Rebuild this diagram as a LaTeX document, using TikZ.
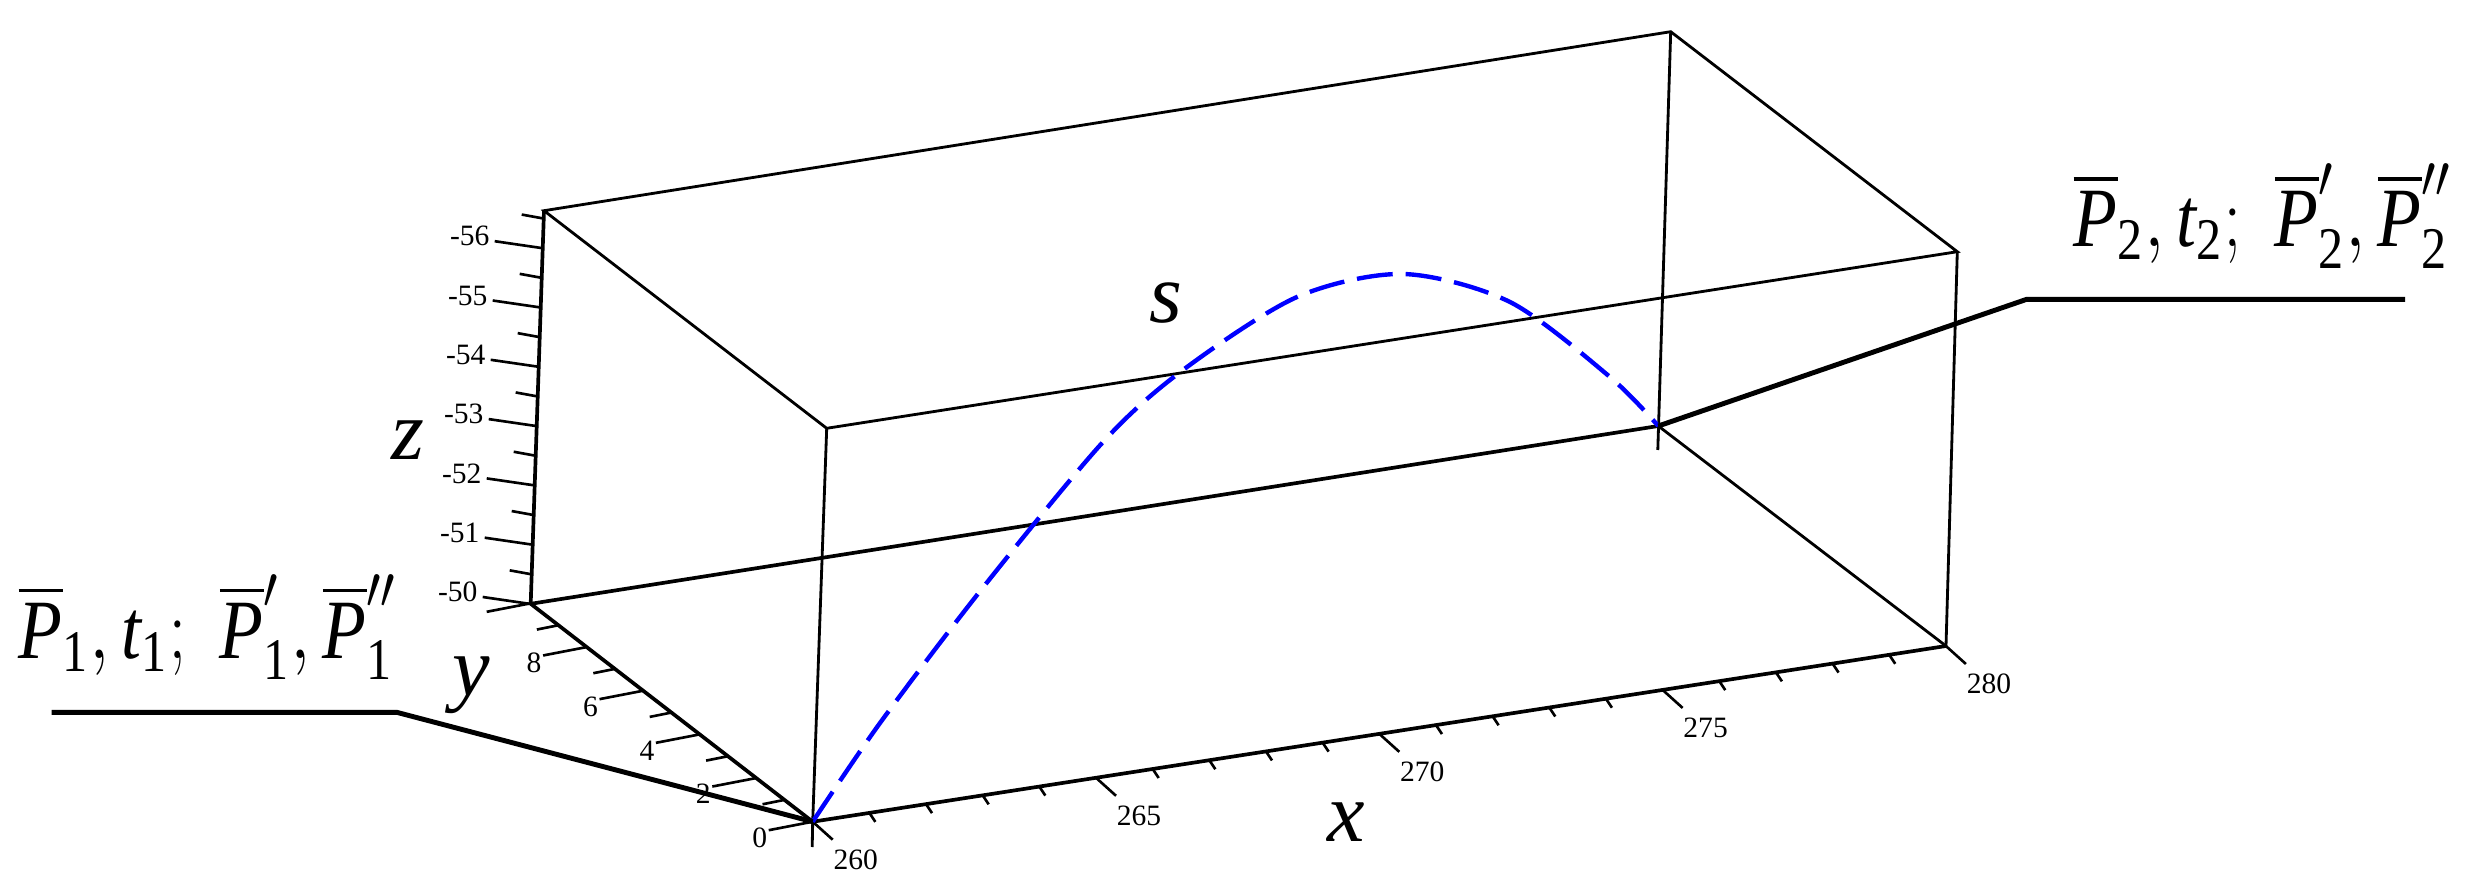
\documentclass[tikz,border=0pt]{standalone}
\usepackage{amsmath}
\usepackage{graphicx}
\usepackage{fontspec}
\setmainfont{Liberation Serif}
\usetikzlibrary{calc}
\newcommand{\Pbar}{\overline{\text{\itshape P}}}
\newcommand{\tsub}[1]{_{\text{#1}}}
\newcommand{\ptext}[1]{\scalebox{0.85}[1]{$\Pbar\tsub{#1},\text{\itshape t}\tsub{#1};\; \Pbar'\tsub{#1},\Pbar''\tsub{#1}$}}
\begin{document}
\begin{tikzpicture}[x=0.01cm,y=-0.01cm,
  edge/.style={line width=0.8pt, black},
  axisline/.style={line width=1.05pt, black},
  tickmark/.style={line width=0.75pt, black},
  ticklabel/.style={font=\fontsize{8.4}{9}\selectfont, inner sep=0pt},
  axlabel/.style={font=\fontsize{24}{28}\selectfont\itshape, inner sep=0pt},
  ptlabel/.style={font=\fontsize{24}{28}\selectfont, inner sep=0pt, anchor=base west},
  leader/.style={line width=1.4pt, black},
  curve/.style={blue, line width=1.25pt, dash pattern=on 0.36cm off 0.13cm}]
\useasboundingbox (0,0) rectangle (2490,888);

% box vertices
\coordinate (TBL) at (544,210.7);
\coordinate (TBR) at (1670.7,31.7);
\coordinate (TFR) at (1957.3,251.7);
\coordinate (TFL) at (826.7,428.3);
\coordinate (BBL) at (530.7,603.8);
\coordinate (BBR) at (1658.3,426);
\coordinate (BFR) at (1946,646);
\coordinate (O) at (812.7,821.7);
\coordinate (Ob) at (812.2,847);
\coordinate (BBRb) at (1657.8,450);

% box edges
\draw[edge] (TBL) -- (TBR) -- (TFR) -- (TFL) -- cycle;
\draw[edge] (TFL) -- (O);
\draw[edge] (TFR) -- (BFR);
\draw[edge] (TBR) -- (BBRb);
\draw[edge] (BBR) -- (BFR);
\draw[axisline] (BBL) -- (BBR);
\draw[axisline] (TBL) -- (BBL);
\draw[axisline] (BBL) -- (O);
\draw[axisline] (O) -- (BFR);
\draw[edge] (O) -- (Ob);

% z axis ticks
\foreach \k in {0,...,6}{
  \draw[tickmark] ({530.7+2*\k},{604-59.3*\k}) -- ++(-48,-7);
  \pgfmathtruncatemacro{\zv}{-50-\k}
  \node[ticklabel] (zl\k) at ({530.7+2*\k-73},{604-59.3*\k-12}) {\zv};
}
\foreach \k in {0.5,1.5,2.5,3.5,4.5,5.5,6.5}{
  \draw[tickmark] ({530.7+2*\k},{604-59.3*\k}) -- ++(-22,-4);
}

% y axis ticks
\foreach \j in {0,2,4,6,8,10}{
  \draw[tickmark] ({812.7-28.2*\j},{821.7-21.84*\j}) -- ++(-44,8.5);
}
\foreach \j in {0,2,4,6,8}{
  \node[ticklabel] (yl\j) at ({812.7-28.2*\j-53},{821.7-21.84*\j+16}) {\j};
}
\foreach \j in {1,3,5,7,9}{
  \draw[tickmark] ({812.7-28.2*\j},{821.7-21.84*\j}) -- ++(-22,4.4);
}

% x axis ticks
\foreach \i in {0,5,10,15,20}{
  \draw[tickmark] ({812.7+56.66*\i},{821.7-8.785*\i}) -- ++(20,18);
  \pgfmathtruncatemacro{\xv}{260+\i}
  \node[ticklabel] (xl\i) at ({812.7+56.66*\i+43},{821.7-8.785*\i+38}) {\xv};
}
\foreach \i in {1,2,3,4,6,7,8,9,11,12,13,14,16,17,18,19}{
  \draw[tickmark] ({812.7+56.66*\i},{821.7-8.785*\i}) -- ++(6,9);
}

% axis labels
\node[axlabel] (zlab) at (408,440) {z};
\node[axlabel] (ylab) at (471,685) {y};
\node[axlabel] (xlab) at (1346,822) {x};
\node[axlabel] (slab) at (1166,303) {s};

% curve
\draw[curve] plot[smooth] coordinates {(812.7,821.7) (880,723) (981,590) (1103,442) (1183,370) (1297,297) (1403,274) (1510,302) (1610,377) (1658.3,426)};

% point labels and leaders
\node[ptlabel] (p1lab) at (18,658) {\ptext{1}};
\node[ptlabel] (p2lab) at (2073,246.7) {\ptext{2}};
\coordinate (L1) at (396.7,712.3);
\coordinate (L1e) at (51.7,712.3);
\coordinate (L2) at (2026.7,299.3);
\coordinate (L2e) at (2405,299.3);
\draw[leader] (L1e) -- (L1) -- (O);
\draw[leader] (BBR) -- (L2) -- (L2e);
\end{tikzpicture}
\end{document}
